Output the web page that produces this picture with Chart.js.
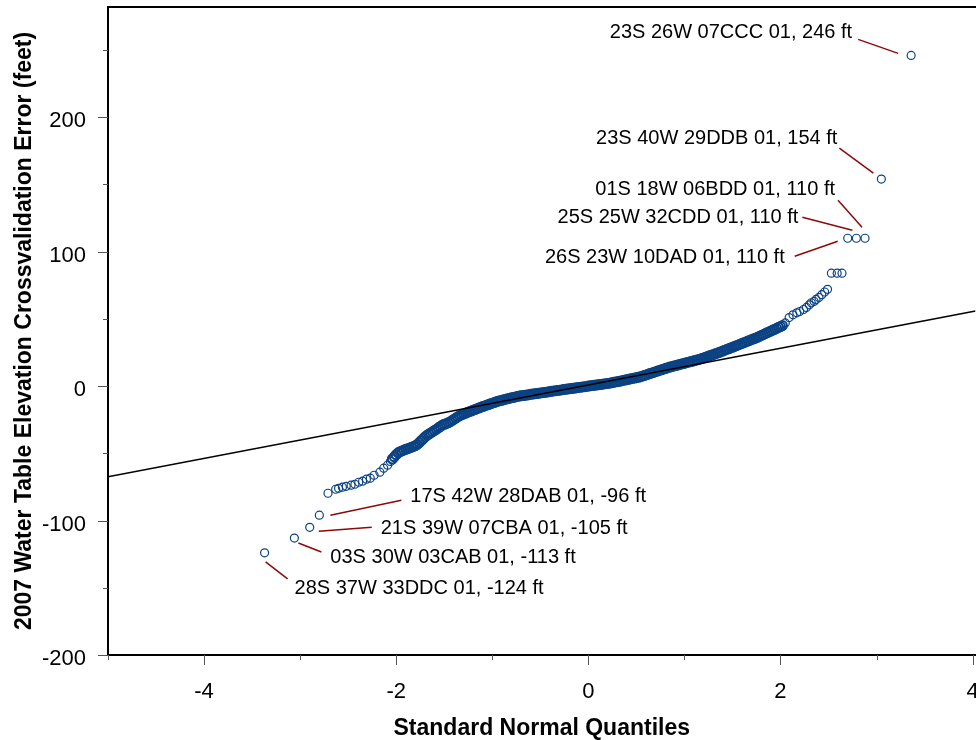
<!DOCTYPE html>
<html>
<head>
<meta charset="utf-8">
<script src="https://cdn.jsdelivr.net/npm/chart.js@4/dist/chart.umd.min.js"></script>
<style>
  html, body { margin: 0; padding: 0; background: #fff; overflow: hidden; }
  /* the last x label overhangs the right edge of the plot, so the canvas runs a little past the window */
  #wrap { position: relative; width: 982px; height: 740px; }
</style>
</head>
<body>
<div id="wrap"><canvas id="qq"></canvas></div>
<script>
// Normal Q-Q plot of 2007 water-table elevation cross-validation errors (feet).

// Central part of the distribution: standard normal quantile vs. error (ft)
const bandQuantiles = [
  -2.04,-2.02,-2.00,-1.98,-1.96,-1.94,-1.92,-1.90,-1.88,-1.86,-1.84,-1.82,-1.80,-1.78,-1.76,-1.74,-1.72,-1.70,
  -1.68,-1.66,-1.64,-1.62,-1.60,-1.58,-1.56,-1.54,-1.52,-1.50,-1.48,-1.46,-1.44,-1.42,-1.40,-1.38,-1.36,-1.34,
  -1.32,-1.30,-1.28,-1.26,-1.24,-1.22,-1.20,-1.18,-1.16,-1.14,-1.12,-1.10,-1.08,-1.06,-1.04,-1.02,-1.00,-0.98,
  -0.96,-0.94,-0.92,-0.90,-0.88,-0.86,-0.84,-0.82,-0.80,-0.78,-0.76,-0.74,-0.72,-0.70,-0.68,-0.66,-0.64,-0.62,
  -0.60,-0.58,-0.56,-0.54,-0.52,-0.50,-0.48,-0.46,-0.44,-0.42,-0.40,-0.38,-0.36,-0.34,-0.32,-0.30,-0.28,-0.26,
  -0.24,-0.22,-0.20,-0.18,-0.16,-0.14,-0.12,-0.10,-0.08,-0.06,-0.04,-0.02,0.00,0.02,0.04,0.06,0.08,0.10,
  0.12,0.14,0.16,0.18,0.20,0.22,0.24,0.26,0.28,0.30,0.32,0.34,0.36,0.38,0.40,0.42,0.44,0.46,
  0.48,0.50,0.52,0.54,0.56,0.58,0.60,0.62,0.64,0.66,0.68,0.70,0.72,0.74,0.76,0.78,0.80,0.82,
  0.84,0.86,0.88,0.90,0.92,0.94,0.96,0.98,1.00,1.02,1.04,1.06,1.08,1.10,1.12,1.14,1.16,1.18,
  1.20,1.22,1.24,1.26,1.28,1.30,1.32,1.34,1.36,1.38,1.40,1.42,1.44,1.46,1.48,1.50,1.52,1.54,
  1.56,1.58,1.60,1.62,1.64,1.66,1.68,1.70,1.72,1.74,1.76,1.78,1.80,1.82,1.84,1.86,1.88,1.90,
  1.92,1.94,1.96,1.98,2.00,2.02
];
const bandErrors = [
  -54.2,-52.6,-51.0,-49.6,-48.8,-48.2,-47.6,-47.0,-46.5,-46.0,-45.4,-44.9,-44.3,-43.4,-42.0,-40.6,-39.2,-37.8,
  -36.6,-35.7,-34.8,-33.9,-33.0,-32.0,-31.0,-30.0,-29.0,-28.4,-27.9,-27.3,-26.6,-25.7,-24.8,-23.8,-22.9,-22.0,
  -21.4,-20.8,-20.2,-19.6,-19.0,-18.5,-17.9,-17.4,-16.8,-16.3,-15.7,-15.2,-14.7,-14.2,-13.7,-13.2,-12.7,-12.2,
  -11.7,-11.2,-10.8,-10.5,-10.1,-9.7,-9.4,-9.0,-8.7,-8.4,-8.0,-7.7,-7.4,-7.2,-7.0,-6.8,-6.6,-6.4,
  -6.1,-5.9,-5.7,-5.5,-5.3,-5.1,-4.9,-4.7,-4.5,-4.3,-4.0,-3.8,-3.6,-3.4,-3.2,-3.0,-2.8,-2.6,
  -2.4,-2.2,-2.0,-1.8,-1.6,-1.4,-1.2,-1.0,-0.8,-0.6,-0.4,-0.2,0.0,0.2,0.4,0.6,0.8,1.0,
  1.2,1.4,1.6,1.8,2.0,2.2,2.5,2.8,3.1,3.3,3.6,3.9,4.2,4.5,4.8,5.1,5.4,5.7,
  6.0,6.3,6.6,6.9,7.4,7.9,8.3,8.8,9.3,9.8,10.2,10.7,11.2,11.7,12.1,12.6,13.1,13.5,
  14.0,14.4,14.8,15.1,15.5,15.9,16.3,16.6,17.0,17.4,17.8,18.1,18.5,18.9,19.3,19.6,20.0,20.5,
  21.0,21.5,22.0,22.5,23.0,23.5,24.0,24.5,25.0,25.6,26.1,26.7,27.3,27.8,28.4,28.9,29.5,30.1,
  30.6,31.2,31.8,32.3,32.9,33.5,34.0,34.6,35.2,35.7,36.3,37.0,37.7,38.3,39.0,39.7,40.3,41.0,
  41.7,42.3,43.0,43.7,44.3,45.0
];

// Thinner tails
const lowerTailQuantiles = [-2.71,-2.63,-2.60,-2.56,-2.52,-2.47,-2.43,-2.39,-2.35,-2.31,-2.27,-2.23,-2.17,-2.13,-2.09,-2.06];
const lowerTailErrors    = [-79.7,-76.7,-76.0,-75.2,-74.5,-73.7,-73.0,-71.5,-70.7,-69.2,-68.5,-66.3,-64.0,-61.0,-58.8,-56.0];
const upperTailQuantiles = [2.05,2.09,2.13,2.17,2.20,2.24,2.27,2.30,2.32,2.35,2.37,2.40,2.43,2.46,2.49,2.53,2.59,2.64];
const upperTailErrors    = [47,51,53,54.5,55.5,57,58.5,60.5,62,63,64.5,66,68,70,72,84,84,84];

// Labelled wells (extreme errors)
const wellIds = ['28S 37W 33DDC 01','03S 30W 03CAB 01','21S 39W 07CBA 01','17S 42W 28DAB 01',
                 '26S 23W 10DAD 01','25S 25W 32CDD 01','01S 18W 06BDD 01','23S 40W 29DDB 01','23S 26W 07CCC 01'];
const wellQuantiles = [-3.37,-3.06,-2.90,-2.80,2.70,2.79,2.88,3.05,3.36];
const wellErrors    = [-124,-113,-105,-96,110,110,110,154,246];

// Reference normal line, end points
const fitLineQuantiles = [-5, 4.03];
const fitLineErrors    = [-67.4, 55.9];

// Axis ticks
const xMinorTicks = [-5,-3,-1,1,3];
const yMinorTicks = [-150,-50,50,150,250];

// Callout placement relative to each well marker (pixels): text anchor, baseline, leader line
const calloutLayout = [
  { tx: 30,  ty: 41,  align: 'left',  l: [1, 9, 23, 26] },
  { tx: 36,  ty: 25,  align: 'left',  l: [4, 5, 27, 14] },
  { tx: 71,  ty: 7,   align: 'left',  l: [9, 4, 62, 0] },
  { tx: 91,  ty: -13, align: 'left',  l: [11, 0, 82, -15] },
  { tx: -63, ty: 25,  align: 'right', l: [-10, 3, -53, 18] },
  { tx: -58, ty: -15, align: 'right', l: [-4, -8, -54, -21] },
  { tx: -30, ty: -43, align: 'right', l: [-3, -11, -27, -38] },
  { tx: -44, ty: -35, align: 'right', l: [-8, -6, -42, -31] },
  { tx: -59, ty: -17, align: 'right', l: [-13, -2, -53, -16] }
];

const FONT = "'Liberation Sans', Arial, Helvetica, sans-serif";
const BLUE = '#0b4283';
const LEADER = '#8b0a0a';

const pairs = (xs, ys) => xs.map((v, i) => ({ x: v, y: ys[i] }));

const qqDecor = {
  id: 'qqDecor',
  afterDraw(chart) {
    const { ctx, chartArea: a, scales: { x, y } } = chart;
    ctx.save();
    const seg = (x1, y1, x2, y2) => { ctx.beginPath(); ctx.moveTo(x1, y1); ctx.lineTo(x2, y2); ctx.stroke(); };

    // top frame line
    ctx.strokeStyle = '#000';
    ctx.lineWidth = 2;
    seg(a.left - 1, a.top, a.right + 6, a.top);

    // tick marks
    ctx.strokeStyle = '#555';
    ctx.lineWidth = 1;
    y.ticks.forEach(t => { const p = Math.round(y.getPixelForValue(t.value)) + 0.5; seg(a.left - 10, p, a.left, p); });
    yMinorTicks.forEach(v => { const p = Math.round(y.getPixelForValue(v)) + 0.5; seg(a.left - 5, p, a.left, p); });
    x.ticks.forEach(t => { const p = Math.round(x.getPixelForValue(t.value)) + 0.5; seg(p, a.bottom, p, a.bottom + 10); });
    xMinorTicks.forEach(v => { const p = Math.round(x.getPixelForValue(v)) + 0.5; seg(p, a.bottom, p, a.bottom + 5); });

    // axis titles
    ctx.fillStyle = '#000';
    ctx.font = 'bold 23px ' + FONT;
    ctx.textAlign = 'center';
    ctx.textBaseline = 'alphabetic';
    ctx.fillText('Standard Normal Quantiles', (a.left + a.right) / 2, 735);
    ctx.save();
    ctx.translate(31, (a.top + a.bottom) / 2);
    ctx.rotate(-Math.PI / 2);
    ctx.fillText('2007 Water Table Elevation Crossvalidation Error (feet)', 0, 0);
    ctx.restore();

    // well callouts
    ctx.font = '20px ' + FONT;
    wellIds.forEach((id, i) => {
      const lay = calloutLayout[i];
      const px = x.getPixelForValue(wellQuantiles[i]);
      const py = y.getPixelForValue(wellErrors[i]);
      ctx.strokeStyle = LEADER;
      ctx.lineWidth = 1.5;
      seg(px + lay.l[0], py + lay.l[1], px + lay.l[2], py + lay.l[3]);
      ctx.fillStyle = '#000';
      ctx.textAlign = lay.align;
      ctx.fillText(id + ', ' + wellErrors[i] + ' ft', px + lay.tx, py + lay.ty);
    });
    ctx.restore();
  }
};

const tickFont = { family: FONT, size: 22 };

new Chart(document.getElementById('qq'), {
  type: 'scatter',
  data: {
    datasets: [
      { data: pairs(fitLineQuantiles, fitLineErrors), showLine: true, borderColor: '#000', borderWidth: 1.5,
        pointRadius: 0, fill: false, order: 0 },
      { data: pairs(bandQuantiles, bandErrors), pointRadius: 4.5, pointBorderWidth: 2,
        borderColor: BLUE, backgroundColor: 'rgba(0,0,0,0)', order: 1 },
      { data: pairs(lowerTailQuantiles, lowerTailErrors).concat(pairs(upperTailQuantiles, upperTailErrors)),
        pointRadius: 4, pointBorderWidth: 1.2, borderColor: BLUE, backgroundColor: 'rgba(0,0,0,0)', order: 1 },
      { data: pairs(wellQuantiles, wellErrors), pointRadius: 4, pointBorderWidth: 1.2,
        borderColor: BLUE, backgroundColor: 'rgba(0,0,0,0)', order: 1 }
    ]
  },
  options: {
    responsive: true,
    maintainAspectRatio: false,
    animation: false,
    events: [],
    layout: { padding: { top: 7, right: 0, bottom: 0, left: 0 } },
    plugins: { legend: { display: false }, tooltip: { enabled: false } },
    scales: {
      x: {
        type: 'linear', min: -5, max: 4.03,
        ticks: { stepSize: 2, includeBounds: false, padding: 24, font: tickFont, color: '#000', maxRotation: 0 },
        grid: { display: false, drawTicks: false },
        border: { display: true, color: '#000', width: 2 },
        afterFit(s) { s.height = 85; s.paddingLeft = 0; s.paddingRight = 0; }
      },
      y: {
        type: 'linear', min: -200, max: 282,
        ticks: { stepSize: 100, includeBounds: false, padding: 22, labelOffset: 4, font: tickFont, color: '#000' },
        grid: { display: false, drawTicks: false },
        border: { display: true, color: '#000', width: 2 },
        afterFit(s) { s.width = 108; s.paddingTop = 0; s.paddingBottom = 0; }
      }
    }
  },
  plugins: [qqDecor]
});
</script>
</body>
</html>
